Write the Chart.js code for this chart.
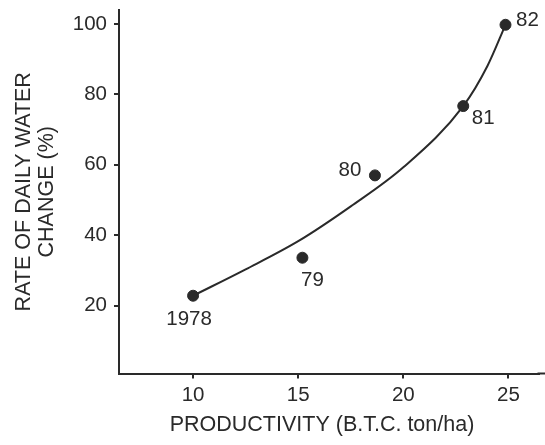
<!DOCTYPE html>
<html>
<head>
<meta charset="utf-8">
<script src="https://cdn.jsdelivr.net/npm/chart.js@4/dist/chart.umd.min.js"></script>
<style>
  body { margin: 0; background: #fff; }
  #wrap { width: 545px; height: 445px; }
</style>
</head>
<body>
<div id="wrap"><canvas id="myChart" width="545" height="445"></canvas></div>
<script>
  // yearly observations
  const years = ['1978', '79', '80', '81', '82'];
  const productivity = [10, 15.2, 18.65, 22.85, 24.86];
  const waterChange = [22.8, 33.6, 57.0, 76.7, 99.8];

  // points along the fitted curve
  const curveX = [10, 12.5, 15, 17.5, 20, 22.85, 24, 24.86];
  const curveY = [22.8, 30.3, 38.3, 48.2, 59.3, 76.7, 88.1, 99.8];

  const xTicks = [10, 15, 20, 25];
  const yTicks = [20, 40, 60, 80, 100];

  const xTitle = 'PRODUCTIVITY (B.T.C. ton/ha)';
  const yTitle = ['RATE OF DAILY WATER', 'CHANGE (%)'];

  const ink = '#2a2a2a';
  const FONT = "'Liberation Sans', Arial, sans-serif";

  // where each year label sits relative to its dot (px)
  const labelShift = [[-4, 24], [10, 23], [-25, -5], [20, 12], [22, -4]];

  const yearLabels = {
    id: 'yearLabels',
    afterDatasetsDraw(chart) {
      const ctx = chart.ctx;
      const meta = chart.getDatasetMeta(1);
      const area = chart.chartArea;
      ctx.save();
      // run the x axis line out to the canvas edge
      ctx.strokeStyle = ink;
      ctx.lineWidth = 2;
      ctx.beginPath();
      ctx.moveTo(area.right - 1, area.bottom);
      ctx.lineTo(chart.width, area.bottom);
      ctx.stroke();

      ctx.font = '20.5px ' + FONT;
      ctx.fillStyle = ink;
      ctx.textAlign = 'center';
      ctx.textBaseline = 'middle';
      meta.data.forEach((pt, i) => {
        ctx.fillText(years[i], pt.x + labelShift[i][0], pt.y + labelShift[i][1]);
      });
      // x axis title, a little left of the plot centre
      ctx.font = '21.5px ' + FONT;
      ctx.fillText(xTitle, 322, 425);
      ctx.restore();
    }
  };

  const ctx = document.getElementById('myChart');

  const myChart = new Chart(ctx, {
    type: 'scatter',
    data: {
      datasets: [
        {
          label: 'fit',
          data: curveX.map((x, i) => ({ x: x, y: curveY[i] })),
          showLine: true,
          cubicInterpolationMode: 'monotone',
          borderColor: ink,
          borderWidth: 2,
          pointRadius: 0,
          fill: false
        },
        {
          label: 'years',
          data: productivity.map((x, i) => ({ x: x, y: waterChange[i] })),
          backgroundColor: ink,
          borderColor: ink,
          pointRadius: 5.5,
          showLine: false
        }
      ]
    },
    options: {
      responsive: false,
      animation: false,
      layout: { padding: { top: 10, right: 0, left: 0, bottom: 0 } },
      plugins: {
        legend: { display: false },
        tooltip: { enabled: false }
      },
      scales: {
        x: {
          type: 'linear',
          min: 6.476,
          max: 26.43,
          afterBuildTicks: (s) => { s.ticks = xTicks.map(v => ({ value: v })); },
          afterFit: (s) => {
            s.height = 71.5;
            s.paddingLeft = 0;
            s.paddingRight = 0;
          },
          grid: { display: true, drawOnChartArea: false, drawTicks: true, tickLength: 5, color: ink, lineWidth: 2 },
          border: { display: true, color: ink, width: 2 },
          ticks: { color: ink, font: { family: FONT, size: 20.5 }, padding: 5, autoSkip: false, maxRotation: 0 }
        },
        y: {
          type: 'linear',
          min: 0.7,
          max: 104,
          afterBuildTicks: (s) => { s.ticks = yTicks.map(v => ({ value: v })); },
          afterFit: (s) => {
            s.width = 119;
            s.paddingTop = 0;
            s.paddingBottom = 0;
          },
          grid: { display: true, drawOnChartArea: false, drawTicks: true, tickLength: 5, color: ink, lineWidth: 2 },
          border: { display: true, color: ink, width: 2 },
          ticks: { color: ink, font: { family: FONT, size: 20.5 }, padding: 7, autoSkip: false },
          title: {
            display: true,
            text: yTitle,
            color: ink,
            font: { family: FONT, size: 21.5, lineHeight: 1.08 },
            padding: { top: 12, bottom: 0 }
          }
        }
      }
    },
    plugins: [yearLabels]
  });
</script>
</body>
</html>
